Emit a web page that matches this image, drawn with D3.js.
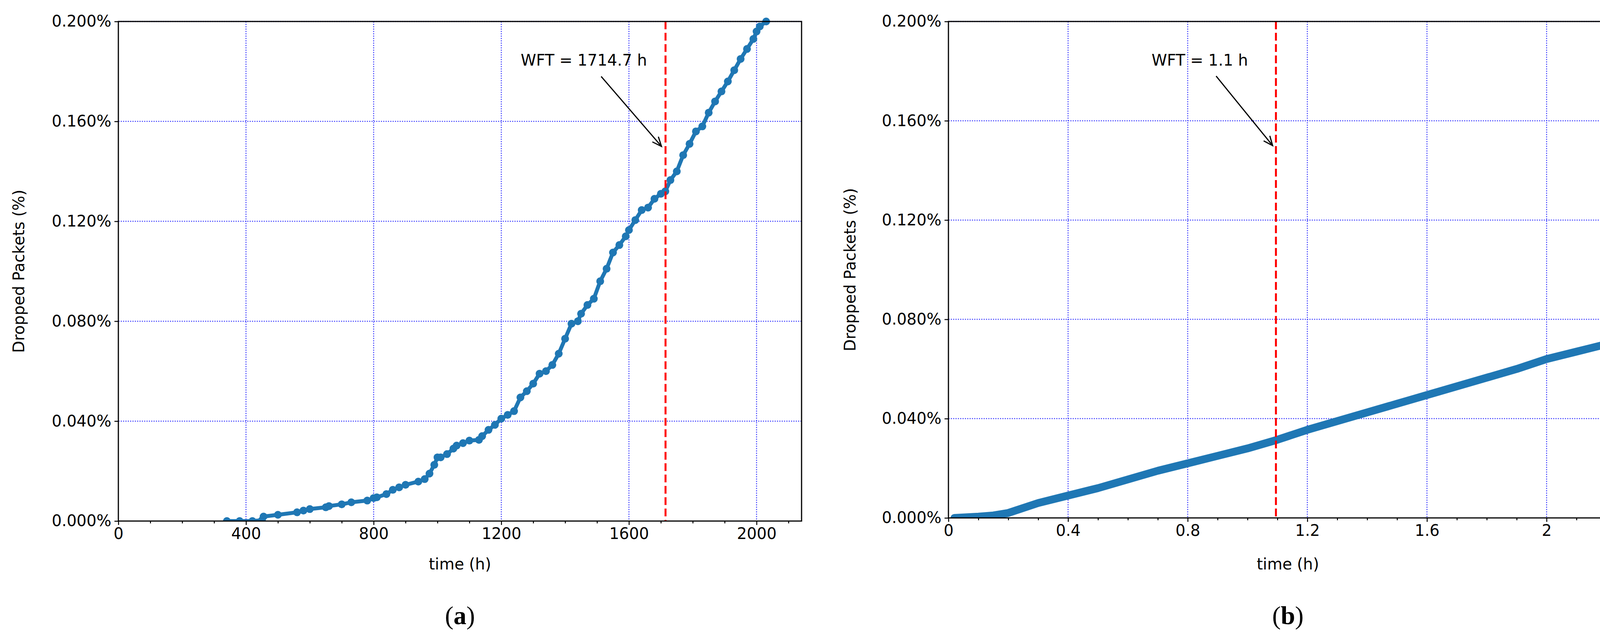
<!DOCTYPE html>
<html><head><meta charset="utf-8">
<script src="https://cdn.jsdelivr.net/npm/d3@7"></script>
<style>body{margin:0;background:#fff}</style></head>
<body><svg id="c" width="4292" height="1636"></svg>
<script>
const leftX = [340,380,420,450,455,500,560,580,600,650,660,700,730,780,800,810,840,860,880,900,940,960,975,990,1000,1010,1030,1050,1060,1080,1100,1130,1140,1160,1180,1200,1220,1240,1260,1280,1300,1320,1340,1360,1380,1400,1420,1440,1450,1470,1490,1510,1530,1550,1570,1590,1600,1620,1640,1660,1680,1700,1714,1730,1750,1770,1790,1810,1830,1850,1870,1890,1910,1930,1950,1970,1990,2000,2010,2030];
const leftY = [0,0,0,0.0003,0.0018,0.0025,0.0035,0.0042,0.0048,0.0055,0.006,0.0067,0.0075,0.0082,0.0092,0.0095,0.0108,0.0125,0.0135,0.0145,0.0158,0.0168,0.019,0.0225,0.0255,0.0255,0.0268,0.029,0.0302,0.0312,0.0322,0.0325,0.034,0.0365,0.0385,0.041,0.0425,0.044,0.0495,0.052,0.055,0.059,0.060,0.0625,0.067,0.073,0.079,0.080,0.083,0.0865,0.089,0.096,0.101,0.1075,0.1105,0.114,0.1165,0.1205,0.1245,0.1255,0.129,0.131,0.132,0.1365,0.140,0.1465,0.151,0.156,0.158,0.1635,0.168,0.172,0.176,0.1805,0.185,0.189,0.193,0.196,0.198,0.2];
const rightX = [0.02,0.1,0.15,0.2,0.3,0.4,0.5,0.6,0.7,0.8,0.9,1.0,1.1,1.2,1.3,1.4,1.5,1.6,1.7,1.8,1.9,2.0,2.1,2.2,2.27];
const rightY = [0,0.0005,0.001,0.002,0.006,0.009,0.012,0.0155,0.019,0.022,0.025,0.028,0.0315,0.0355,0.039,0.0425,0.046,0.0495,0.053,0.0565,0.060,0.064,0.067,0.070,0.0725];
const yTicks = [0,0.04,0.08,0.12,0.16,0.2];
const leftXTicks = [0,400,800,1200,1600,2000];
const rightXTicks = [0,0.4,0.8,1.2,1.6,2];

const svg = d3.select("#c");
const font = "'DejaVu Sans', sans-serif";

function panel(o){
  const g = svg.append("g");
  const x = d3.scaleLinear().domain(o.xd).range([o.x0,o.x1]);
  const y = d3.scaleLinear().domain([0,0.2]).range([o.y1,o.y0]);
  g.selectAll(".gx").data(o.xt.filter(v=>v>0)).join("line")
   .attr("x1",d=>x(d)).attr("x2",d=>x(d)).attr("y1",o.y0).attr("y2",o.y1)
   .attr("stroke","#4a4aff").attr("stroke-width",2.5).attr("stroke-dasharray","3,3");
  g.selectAll(".gy").data(yTicks.filter(v=>v>0)).join("line")
   .attr("x1",o.x0).attr("x2",o.x1).attr("y1",d=>y(d)).attr("y2",d=>y(d))
   .attr("stroke","#4a4aff").attr("stroke-width",2.5).attr("stroke-dasharray","3,3");
  const clip = "clip"+o.id;
  svg.append("clipPath").attr("id",clip).append("rect").attr("x",o.x0).attr("y",o.y0-12).attr("width",o.x1-o.x0).attr("height",o.y1-o.y0+12);
  const pg = g.append("g").attr("clip-path",`url(#${clip})`);
  const data = o.xs.map((v,i)=>[v,o.ys[i]]);
  pg.append("path").datum(data).attr("d",d3.line().x(d=>x(d[0])).y(d=>y(d[1])))
   .attr("fill","none").attr("stroke","#1f77b4").attr("stroke-width",o.lw).attr("stroke-linejoin","round").attr("stroke-linecap","round");
  if(o.markers) pg.selectAll("circle").data(data).join("circle")
   .attr("cx",d=>x(d[0])).attr("cy",d=>y(d[1])).attr("r",10).attr("fill","#1f77b4");
  g.append("line").attr("x1",x(o.wft)).attr("x2",x(o.wft)).attr("y1",o.y0).attr("y2",o.y1)
   .attr("stroke","#ff0000").attr("stroke-width",5).attr("stroke-dasharray","20,9");
  const ax = g.append("g").attr("transform",`translate(0,${o.y1})`)
    .call(d3.axisBottom(x).tickValues(o.xt).tickFormat(o.xf).tickSize(10).tickPadding(8));
  const axm = g.append("g").attr("transform",`translate(0,${o.y1})`)
    .call(d3.axisBottom(x).tickValues(o.minor).tickFormat("").tickSize(6));
  const ay = g.append("g").attr("transform",`translate(${o.x0},0)`)
    .call(d3.axisLeft(y).tickValues(yTicks).tickFormat(d=>d.toFixed(3)+"%").tickSize(10).tickPadding(8));
  [ax,axm,ay].forEach(a=>{a.select(".domain").remove();a.selectAll("line").attr("stroke","#000").attr("stroke-width",2.5);
    a.selectAll("text").attr("font-family",font).attr("font-size",40).attr("fill","#000");});
  g.append("rect").attr("x",o.x0).attr("y",o.y0).attr("width",o.x1-o.x0).attr("height",o.y1-o.y0)
   .attr("fill","none").attr("stroke","#000").attr("stroke-width",3);
  g.append("text").attr("x",(o.x0+o.x1)/2).attr("y",1458).attr("text-anchor","middle")
   .attr("font-family",font).attr("font-size",40).text("time (h)");
  g.append("text").attr("transform",`translate(${o.ylx},${(o.y0+o.y1)/2}) rotate(-90)`).attr("text-anchor","middle")
   .attr("font-family",font).attr("font-size",40).text("Dropped Packets (%)");
  g.append("text").attr("x",(o.x0+o.x1)/2).attr("y",1598).attr("text-anchor","middle")
   .attr("font-family","'Liberation Serif', serif").attr("font-size",66).html(`(<tspan font-weight="bold">${o.tag}</tspan>)`);
  g.append("text").attr("x",o.tpx).attr("y",168).attr("font-family",font).attr("font-size",40).text(o.txt);
  const ax1=x(o.a0[0]), ay1=y(o.a0[1]), ax2=x(o.a1[0]), ay2=y(o.a1[1]);
  g.append("line").attr("x1",ax1).attr("y1",ay1).attr("x2",ax2).attr("y2",ay2).attr("stroke","#000").attr("stroke-width",3);
  const ang=Math.atan2(ay2-ay1,ax2-ax1), L=26, w=0.4;
  g.append("path").attr("d",`M${ax2-L*Math.cos(ang-w)},${ay2-L*Math.sin(ang-w)} L${ax2},${ay2} L${ax2-L*Math.cos(ang+w)},${ay2-L*Math.sin(ang+w)}`)
   .attr("fill","none").attr("stroke","#000").attr("stroke-width",3);
}

panel({id:"a",tag:"a",x0:303,x1:2052,y0:55,y1:1334,xd:[0,2141],xt:leftXTicks,xf:d3.format("d"),
  minor:d3.range(100,2141,100).filter(v=>v%400),xs:leftX,ys:leftY,lw:10,markers:true,wft:1714.7,
  tpx:1333,txt:"WFT = 1714.7 h",a0:[1513,0.178],a1:[1702,0.150],ylx:62});
panel({id:"b",tag:"b",x0:2428,x1:4166,y0:55,y1:1326,xd:[0,2.27],xt:rightXTicks,xf:d=>d===2?"2":(d===0?"0":d.toFixed(1)),
  minor:d3.range(0.1,2.27,0.1).filter(v=>Math.abs(v/0.4-Math.round(v/0.4))>0.01),xs:rightX,ys:rightY,lw:20,markers:false,wft:1.095,
  tpx:2948,txt:"WFT = 1.1 h",a0:[0.895,0.178],a1:[1.084,0.150],ylx:2190});
</script></body></html>
